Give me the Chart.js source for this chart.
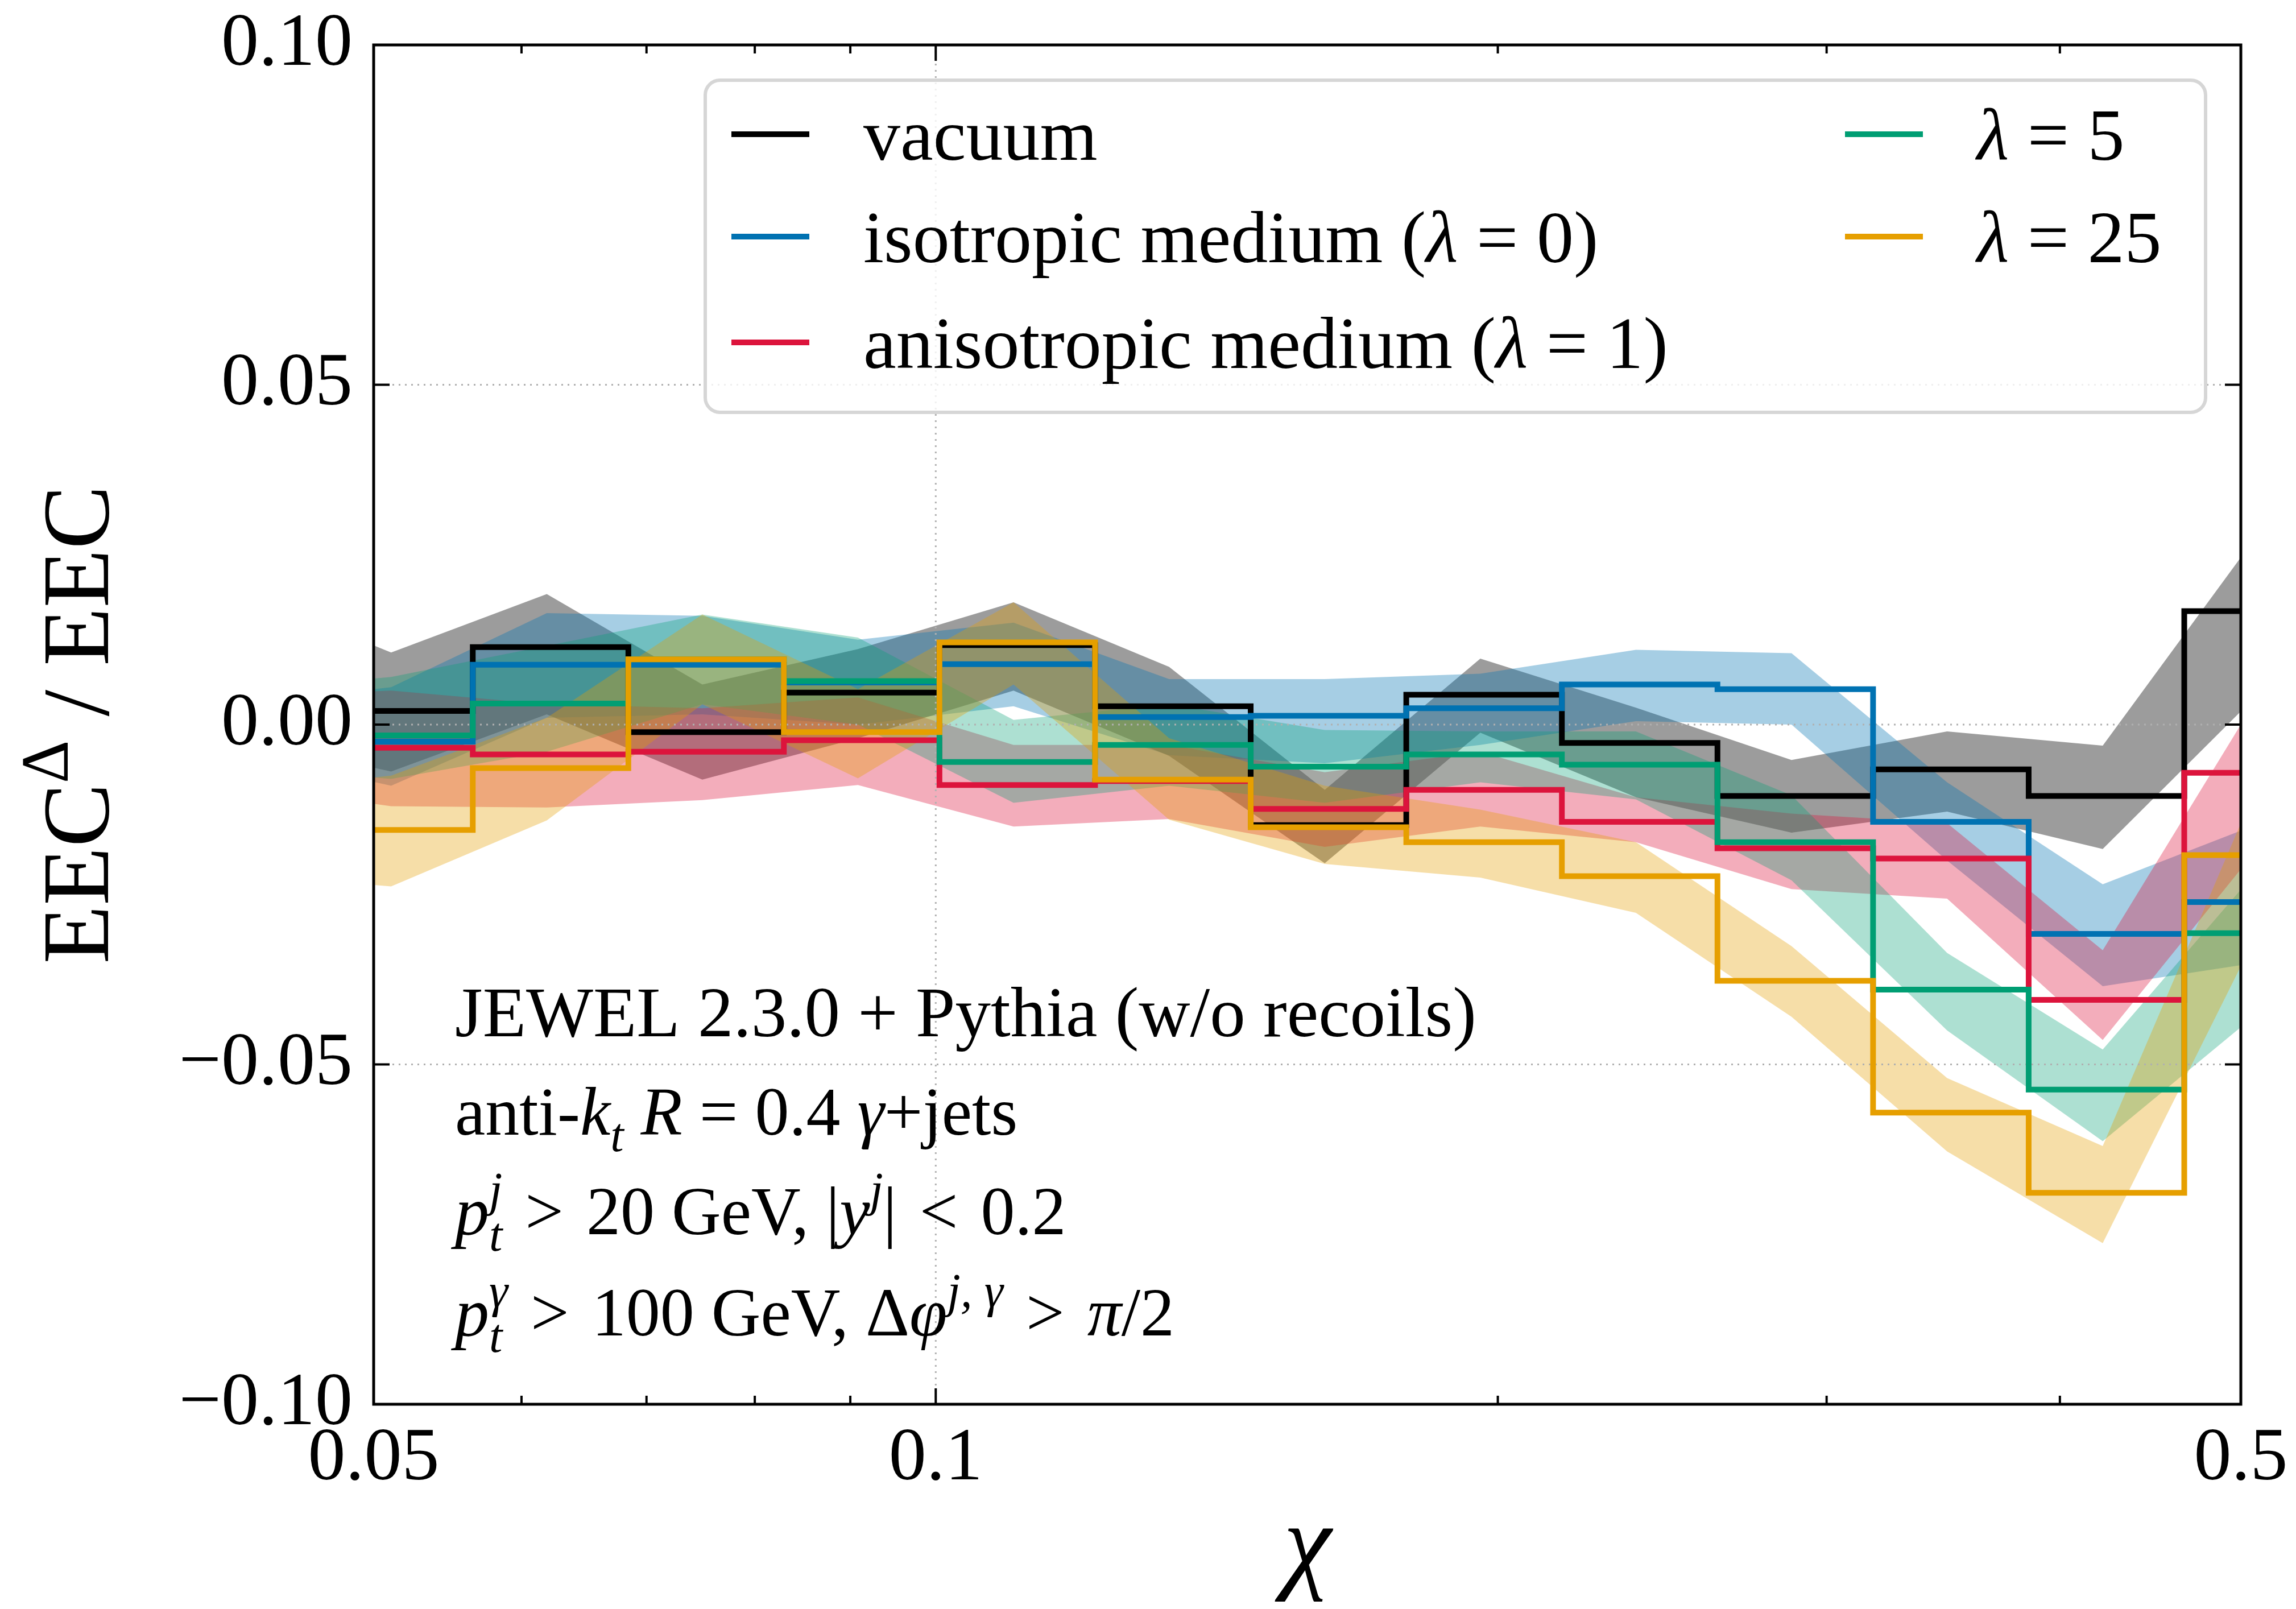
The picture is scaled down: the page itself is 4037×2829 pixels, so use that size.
<!DOCTYPE html>
<html lang="en">
<head>
    <meta charset="UTF-8">
    <title>EEC ratio vs chi</title>
    <script src="https://cdn.jsdelivr.net/npm/chart.js"></script>
    <style>
        html, body { margin: 0; padding: 0; background: #fff; }
        #myChart { display: block; }
    </style>
</head>
<body>
    <canvas id="myChart" width="4037" height="2829"></canvas>

    <script>
        // --- data ---
        // bin centres (12 bins per decade) = corners of the uncertainty bands
        const binCenters = [0.04217, 0.05109, 0.06190, 0.07499, 0.09085, 0.11007, 0.13335,
                            0.16156, 0.19573, 0.23714, 0.28730, 0.34807, 0.42170, 0.51090];
        // where the histogram lines step (between the centres)
        const stepEdges = [0.04663, 0.05650, 0.06845, 0.08292, 0.10046, 0.12171, 0.14746,
                           0.17865, 0.21644, 0.26222, 0.31769, 0.38489, 0.46630, 0.56494];

        // central values, one per bin (bins 0.0466 ... 0.5649)
        const vacuum      = [0.0020, 0.0114, -0.0011, 0.0047, 0.0117, 0.0027, -0.0148, 0.0044, -0.0027, -0.0105, -0.0066, -0.0105, 0.0167];
        const isotropic   = [-0.0025, 0.0088, 0.0088, 0.0062, 0.0089, 0.0011, 0.0013, 0.0024, 0.0059, 0.0052, -0.0143, -0.0308, -0.0261];
        const anisotropic = [-0.0034, -0.0044, -0.0040, -0.0023, -0.0089, -0.0083, -0.0124, -0.0096, -0.0143, -0.0182, -0.0197, -0.0405, -0.0071];
        const lambda5     = [-0.0016, 0.0031, 0.0096, 0.0064, -0.0055, -0.0030, -0.0062, -0.0044, -0.0059, -0.0173, -0.0390, -0.0537, -0.0307];
        const lambda25    = [-0.0155, -0.0064, 0.0096, -0.0011, 0.0121, -0.0081, -0.0151, -0.0173, -0.0223, -0.0377, -0.0571, -0.0689, -0.0192];

        // uncertainty bands at the bin centres
        const vacuumLo = [-0.0020, -0.0069, 0.0015, -0.0081, -0.0020, 0.0050, -0.0046, -0.0204, -0.0012, -0.0107, -0.0159, -0.0128, -0.0183, 0.0045];
        const vacuumHi = [0.0200, 0.0106, 0.0192, 0.0059, 0.0111, 0.0180, 0.0085, -0.0096, 0.0097, 0.0025, -0.0052, -0.0010, -0.0031, 0.0281];
        const isoLo    = [-0.0040, -0.0090, 0.0010, 0.0015, 0.0000, 0.0027, -0.0045, -0.0057, -0.0030, 0.0005, 0.0000, -0.0200, -0.0385, -0.0350];
        const isoHi    = [0.0030, 0.0055, 0.0164, 0.0160, 0.0125, 0.0150, 0.0067, 0.0067, 0.0075, 0.0110, 0.0105, -0.0085, -0.0235, -0.0146];
        const anisoLo  = [-0.0090, -0.0120, -0.0122, -0.0111, -0.0089, -0.0150, -0.0139, -0.0180, -0.0150, -0.0173, -0.0242, -0.0256, -0.0464, -0.0181];
        const anisoHi  = [0.0040, 0.0050, 0.0030, 0.0024, 0.0040, -0.0030, -0.0030, -0.0070, -0.0040, -0.0107, -0.0131, -0.0145, -0.0332, 0.0042];
        const lam5Lo   = [-0.0060, -0.0080, -0.0040, 0.0030, 0.0000, -0.0115, -0.0090, -0.0115, -0.0085, -0.0110, -0.0229, -0.0450, -0.0613, -0.0424];
        const lam5Hi   = [0.0050, 0.0070, 0.0116, 0.0162, 0.0128, 0.0007, 0.0030, -0.0008, -0.0010, -0.0010, -0.0104, -0.0336, -0.0478, -0.0213];
        const lam25Lo  = [-0.0220, -0.0238, -0.0141, 0.0030, -0.0079, 0.0059, -0.0140, -0.0205, -0.0225, -0.0277, -0.0430, -0.0628, -0.0763, -0.0304];
        const lam25Hi  = [-0.0100, -0.0075, 0.0010, 0.0162, 0.0052, 0.0180, -0.0020, -0.0090, -0.0125, -0.0173, -0.0326, -0.0520, -0.0620, -0.0085];

        const seriesLabels = ['vacuum', 'isotropic medium (λ = 0)', 'anisotropic medium (λ = 1)', 'λ = 5', 'λ = 25'];

        // axes
        const xTickValues = [0.05, 0.1, 0.5];
        const xTickLabels = ['0.05', '0.1', '0.5'];
        const xMinorTicks = [0.06, 0.07, 0.08, 0.09, 0.2, 0.3, 0.4];
        const yTickValues = [-0.10, -0.05, 0.00, 0.05, 0.10];
        const yTickLabels = ['\u22120.10', '\u22120.05', '0.00', '0.05', '0.10'];

        // text block in the lower left (hair spaces widen the relations a little, like math mode)
        const notes = [
            { size: 125, y: 1822, parts: [{ t: 'JEWEL 2.3.0 + Pythia (w/o recoils)' }] },
            { size: 120, y: 1995, parts: [{ t: 'anti-' }, { t: 'k', i: 1 }, { t: 't', i: 1, sub: 1 }, { t: ' ' }, { t: 'R', i: 1 },
                                          { t: ' = 0.4 ' }, { t: 'γ', i: 1 }, { t: '+jets' }] },
            { size: 120, y: 2170, parts: [{ t: 'p', i: 1 }, { t: 't', i: 1, sub: 1, stack: 1 }, { t: 'j', i: 1, sup: 1 },
                                          { t: ' \u200A>\u200A 20 GeV, |' }, { t: 'y', i: 1 }, { t: 'j', i: 1, sup: 1 },
                                          { t: '| \u200A<\u200A 0.2' }] },
            { size: 120, y: 2348, parts: [{ t: 'p', i: 1 }, { t: 't', i: 1, sub: 1, stack: 1 }, { t: 'γ', i: 1, sup: 1 },
                                          { t: ' \u200A>\u200A 100 GeV, Δ' }, { t: 'φ', i: 1 }, { t: 'j, γ', i: 1, sup: 1 },
                                          { t: ' \u200A>\u200A ' }, { t: 'π', i: 1 }, { t: '/2' }] }
        ];

        // --- styling ---
        const SERIF = '"Liberation Serif", "DejaVu Serif", serif';
        const series = [
            { vals: vacuum,      lo: vacuumLo, hi: vacuumHi, line: '#000000', band: 'rgba(0,0,0,0.39)' },
            { vals: isotropic,   lo: isoLo,    hi: isoHi,    line: '#0072B2', band: 'rgba(0,114,178,0.35)' },
            { vals: anisotropic, lo: anisoLo,  hi: anisoHi,  line: '#DC143C', band: 'rgba(220,20,60,0.35)' },
            { vals: lambda5,     lo: lam5Lo,   hi: lam5Hi,   line: '#009E73', band: 'rgba(0,158,115,0.32)' },
            { vals: lambda25,    lo: lam25Lo,  hi: lam25Hi,  line: '#E69F00', band: 'rgba(230,159,0,0.34)' }
        ];

        // bands first (pairs lo/hi), then the step lines
        const datasets = [];
        series.forEach((s, j) => {
            datasets.push({
                label: seriesLabels[j] + ' lo',
                data: binCenters.map((x, i) => ({ x: x, y: s.lo[i] })),
                borderColor: 'rgba(0,0,0,0)', borderWidth: 1, pointRadius: 0, fill: false,
                order: 20 - j
            });
            datasets.push({
                label: seriesLabels[j] + ' hi',
                data: binCenters.map((x, i) => ({ x: x, y: s.hi[i] })),
                borderColor: 'rgba(0,0,0,0)', borderWidth: 1, pointRadius: 0,
                backgroundColor: s.band, fill: '-1',
                order: 20 - j
            });
        });
        series.forEach((s, j) => {
            datasets.push({
                label: seriesLabels[j],
                isStep: true,
                data: stepEdges.map((x, i) => ({ x: x, y: s.vals[Math.min(i, s.vals.length - 1)] })),
                borderColor: s.line, borderWidth: 10, pointRadius: 0, fill: false,
                stepped: true, borderJoinStyle: 'miter', borderCapStyle: 'butt',
                order: 5 - j
            });
        });

        // draw mixed roman / italic / sub / sup text, returns the width
        function drawRich(ctx, x, y, parts, size, dry) {
            let cx = x, held = 0;
            parts.forEach(p => {
                const small = p.sub || p.sup;
                const fs = small ? size * 0.7 : size;
                ctx.font = (p.i ? 'italic ' : '') + fs + 'px ' + SERIF;
                const dy = p.sub ? size * 0.24 : (p.sup ? -size * 0.42 : 0);
                if (!dry) ctx.fillText(p.t, cx, y + dy);
                const w = ctx.measureText(p.t).width;
                if (p.stack) { held = w; }
                else { cx += Math.max(w, held); held = 0; }
            });
            return cx - x;
        }

        // split a label so that λ comes out italic
        function labelParts(txt) {
            const out = [];
            txt.split('λ').forEach((piece, k) => {
                if (k > 0) out.push({ t: 'λ', i: 1 });
                if (piece) out.push({ t: piece });
            });
            return out;
        }

        function drawGrid(chart) {
            const { ctx, chartArea: a, scales } = chart;
            ctx.save();
            ctx.strokeStyle = '#b0b0b0';
            ctx.lineWidth = 3;
            ctx.setLineDash([3, 8]);
            yTickValues.forEach(v => {
                const y = scales.y.getPixelForValue(v);
                ctx.beginPath(); ctx.moveTo(a.left, y); ctx.lineTo(a.right, y); ctx.stroke();
            });
            xTickValues.forEach(v => {
                const x = scales.x.getPixelForValue(v);
                ctx.beginPath(); ctx.moveTo(x, a.top); ctx.lineTo(x, a.bottom); ctx.stroke();
            });
            ctx.restore();
        }

        function drawFrame(chart) {
            const { ctx, chartArea: a, scales } = chart;
            ctx.save();
            ctx.strokeStyle = '#000';
            ctx.lineWidth = 4;
            // inward ticks on all four sides
            const tick = (x1, y1, x2, y2) => { ctx.beginPath(); ctx.moveTo(x1, y1); ctx.lineTo(x2, y2); ctx.stroke(); };
            yTickValues.forEach(v => {
                const y = scales.y.getPixelForValue(v);
                tick(a.left, y, a.left + 28, y);
                tick(a.right, y, a.right - 28, y);
            });
            xTickValues.forEach(v => {
                const x = scales.x.getPixelForValue(v);
                tick(x, a.bottom, x, a.bottom - 28);
                tick(x, a.top, x, a.top + 28);
            });
            xMinorTicks.forEach(v => {
                const x = scales.x.getPixelForValue(v);
                tick(x, a.bottom, x, a.bottom - 15);
                tick(x, a.top, x, a.top + 15);
            });
            ctx.lineWidth = 5;
            ctx.strokeRect(a.left, a.top, a.right - a.left, a.bottom - a.top);
            ctx.restore();
        }

        function drawLegend(chart) {
            const ctx = chart.ctx;
            ctx.save();
            // box
            const bx = 1240, by = 141, bw = 2638, bh = 584, r = 26;
            ctx.beginPath();
            ctx.roundRect(bx, by, bw, bh, r);
            ctx.fillStyle = 'rgba(255,255,255,0.8)';
            ctx.fill();
            ctx.lineWidth = 6;
            ctx.strokeStyle = '#d6d6d6';
            ctx.stroke();
            // entries: [series index, handle x, text x, row y]
            const slots = [[0, 1286, 1518, 236], [1, 1286, 1518, 416], [2, 1286, 1518, 602],
                           [3, 3244, 3476, 236], [4, 3244, 3476, 416]];
            ctx.fillStyle = '#000';
            ctx.textBaseline = 'alphabetic';
            ctx.textAlign = 'left';
            slots.forEach(([j, hx, tx, ry]) => {
                ctx.strokeStyle = series[j].line;
                ctx.lineWidth = 10;
                ctx.beginPath(); ctx.moveTo(hx, ry); ctx.lineTo(hx + 137, ry); ctx.stroke();
                drawRich(ctx, tx, ry + 45, labelParts(seriesLabels[j]), 130);
            });
            ctx.restore();
        }

        function drawNotes(chart) {
            const ctx = chart.ctx;
            ctx.save();
            ctx.fillStyle = '#000';
            ctx.textAlign = 'left';
            ctx.textBaseline = 'alphabetic';
            notes.forEach(n => drawRich(ctx, 800, n.y, n.parts, n.size));
            ctx.restore();
        }

        function drawTitles(chart) {
            const { ctx, chartArea: a } = chart;
            ctx.save();
            ctx.fillStyle = '#000';
            ctx.textBaseline = 'alphabetic';
            ctx.textAlign = 'left';
            // y title, rotated
            const yParts = [{ t: 'EEC' }, { t: 'Δ', sup: 1 }, { t: ' / EEC' }];
            const w = drawRich(ctx, 0, 0, yParts, 168, true);
            ctx.translate(135, (a.top + a.bottom) / 2);
            ctx.rotate(-Math.PI / 2);
            drawRich(ctx, -w / 2, 55, yParts, 168);
            ctx.restore();
            // x title
            ctx.save();
            ctx.fillStyle = '#000';
            ctx.textAlign = 'center';
            ctx.font = 'italic 190px ' + SERIF;
            ctx.fillText('χ', (a.left + a.right) / 2, 2775);
            ctx.restore();
        }

        const decor = {
            id: 'decor',
            beforeDatasetsDraw(chart) { chart.$gridDone = false; },
            beforeDatasetDraw(chart, args) {
                // grid goes above the bands but under the lines
                if (!chart.$gridDone && chart.data.datasets[args.index].isStep) {
                    drawGrid(chart);
                    chart.$gridDone = true;
                }
            },
            afterDraw(chart) {
                drawFrame(chart);
                drawLegend(chart);
                drawNotes(chart);
                drawTitles(chart);
            }
        };

        var ctx = document.getElementById('myChart').getContext('2d');
        var chart = new Chart(ctx, {
            type: 'line',
            data: { datasets: datasets },
            plugins: [decor],
            options: {
                responsive: false,
                devicePixelRatio: 1,
                animation: false,
                layout: { padding: { left: 0, right: 97, top: 79, bottom: 0 } },
                plugins: {
                    legend: { display: false },
                    tooltip: { enabled: false },
                    filler: { propagate: false }
                },
                scales: {
                    x: {
                        type: 'logarithmic',
                        min: 0.05,
                        max: 0.5,
                        afterBuildTicks: s => { s.ticks = xTickValues.map(v => ({ value: v })); },
                        afterFit: s => { s.height = 360; s.paddingLeft = 0; s.paddingRight = 0; },
                        ticks: {
                            callback: (v, i) => xTickLabels[i],
                            font: { family: SERIF, size: 132 },
                            color: '#000',
                            padding: 18,
                            maxRotation: 0,
                            autoSkip: false
                        },
                        grid: { display: false, drawTicks: false },
                        border: { display: false }
                    },
                    y: {
                        type: 'linear',
                        min: -0.1,
                        max: 0.1,
                        afterBuildTicks: s => { s.ticks = yTickValues.map(v => ({ value: v })); },
                        afterFit: s => { s.width = 657; s.paddingTop = 0; s.paddingBottom = 0; },
                        ticks: {
                            callback: (v, i) => yTickLabels[i],
                            font: { family: SERIF, size: 132 },
                            color: '#000',
                            padding: 37,
                            autoSkip: false
                        },
                        grid: { display: false, drawTicks: false },
                        border: { display: false }
                    }
                }
            }
        });
    </script>
</body>
</html>
